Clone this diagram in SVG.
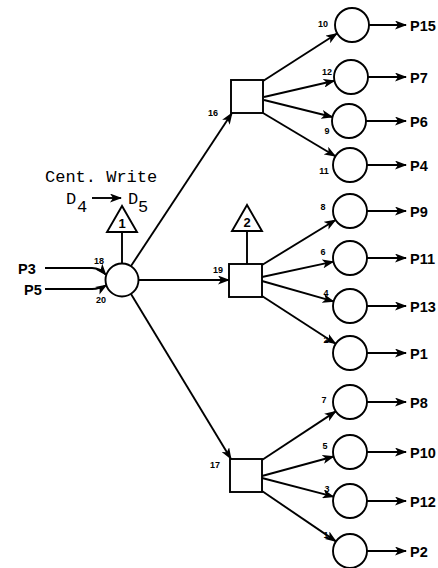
<svg xmlns="http://www.w3.org/2000/svg" width="438" height="568" viewBox="0 0 438 568">
<style>
.n{fill:#fff;stroke:#000;stroke-width:1.9}
.e{fill:none;stroke:#000;stroke-width:1.9;marker-end:url(#ah)}
.l{fill:none;stroke:#000;stroke-width:1.9}
.p{font-family:"Liberation Sans",Arial,sans-serif;font-weight:bold;font-size:14.5px;fill:#000}
.s{font-family:"Liberation Sans",Arial,sans-serif;font-weight:bold;font-size:9px;fill:#000;text-anchor:middle}
.t{font-family:"Liberation Sans",Arial,sans-serif;font-weight:bold;font-size:13px;fill:#000;text-anchor:middle}
.m{font-family:"Liberation Mono","Courier New",monospace;font-size:17px;fill:#000}
</style>
<defs>
<marker id="ah" markerWidth="12" markerHeight="9" refX="11" refY="4.5" orient="auto" markerUnits="userSpaceOnUse">
<path d="M0,0 L12,4.5 L0,9 L3,4.5 z" fill="#000"/>
</marker>
</defs>
<rect width="438" height="568" fill="#fff"/>

<g id="connectors">
<path class="e" d="M45,268 L92,268 Q100,268 106,275"/>
<path class="e" d="M45,289 L92,289 Q100,289 106.5,285"/>
<path class="e" d="M131,266 L232,113"/>
<path class="e" d="M139,280 L229,280"/>
<path class="e" d="M131,294 L231,459"/>
<path class="l" d="M122,232 L122,263.5"/>
<path class="l" d="M247,231 L247,264"/>
<path class="e" d="M263,81 L337,33.5"/>
<path class="e" d="M264,97 L334.4,80.8"/>
<path class="e" d="M264,100 L332.5,117"/>
<path class="e" d="M263,113 L335.4,156.3"/>
<path class="e" d="M262,265 L335.5,220"/>
<path class="e" d="M262,277 L333.4,261.6"/>
<path class="e" d="M262,281 L333.6,301.4"/>
<path class="e" d="M262,296 L335.7,343.8"/>
<path class="e" d="M262,460 L335.8,411.4"/>
<path class="e" d="M262,476 L333.6,456.5"/>
<path class="e" d="M262,478 L333.6,496.7"/>
<path class="e" d="M262,491 L336,541.4"/>
<path class="e" d="M369,25 L406,25"/>
<path class="e" d="M368,77 L406,77"/>
<path class="e" d="M366,121 L406,121"/>
<path class="e" d="M367,165 L406,165"/>
<path class="e" d="M367,211 L406,211"/>
<path class="e" d="M367,258 L406,258"/>
<path class="e" d="M367,306 L406,306"/>
<path class="e" d="M367,353 L406,353"/>
<path class="e" d="M367,402 L406,402"/>
<path class="e" d="M367,452 L406,452"/>
<path class="e" d="M367,501 L406,501"/>
<path class="e" d="M367,551 L406,551"/>
<path class="e" d="M92,198 L121,198"/>
</g>

<g id="annotation">
<text class="m" x="45" y="182">Cent. Write</text>
<text class="m" x="66" y="204" font-size="16">D</text>
<text class="m" x="77" y="212" font-size="16">4</text>
<text class="m" x="128" y="204" font-size="16">D</text>
<text class="m" x="138" y="212" font-size="16">5</text>
</g>

<g id="inputs">
<text class="p" x="18" y="273.5">P3</text>
<text class="p" x="24" y="294.5">P5</text>
<text class="s" x="99" y="264">18</text>
<text class="s" x="101" y="303">20</text>
</g>

<g id="trig1">
<polygon class="n" points="122,206 107,232 137,232"/>
<text class="t" x="122" y="228">1</text>
</g>
<g id="trig2">
<polygon class="n" points="247,205 232,231 262,231"/>
<text class="t" x="247" y="227">2</text>
</g>

<g id="main"><circle class="n" cx="122" cy="280" r="16.5"/></g>

<g id="box16"><rect class="n" x="231" y="80" width="32" height="33"/><text class="s" x="213" y="116">16</text></g>
<g id="box19"><rect class="n" x="229" y="264" width="33" height="33"/><text class="s" x="218" y="273">19</text></g>
<g id="box17"><rect class="n" x="230" y="459" width="32" height="33"/><text class="s" x="215" y="468">17</text></g>

<g id="c10"><circle class="n" cx="352" cy="25" r="17"/><text class="s" x="323" y="27">10</text><text class="p" x="410" y="30.5">P15</text></g>
<g id="c12"><circle class="n" cx="351" cy="77" r="17"/><text class="s" x="327" y="75">12</text><text class="p" x="410" y="82.5">P7</text></g>
<g id="c9"><circle class="n" cx="349" cy="121" r="17"/><text class="s" x="327" y="134">9</text><text class="p" x="410" y="126.5">P6</text></g>
<g id="c11"><circle class="n" cx="350" cy="165" r="17"/><text class="s" x="324" y="174">11</text><text class="p" x="410" y="170.5">P4</text></g>

<g id="c8"><circle class="n" cx="350" cy="211" r="17"/><text class="s" x="323" y="210">8</text><text class="p" x="410" y="216.5">P9</text></g>
<g id="c6"><circle class="n" cx="350" cy="258" r="17"/><text class="s" x="323" y="255">6</text><text class="p" x="410" y="263.5">P11</text></g>
<g id="c4"><circle class="n" cx="350" cy="306" r="17"/><text class="s" x="326" y="296">4</text><text class="p" x="410" y="311.5">P13</text></g>
<g id="c2"><circle class="n" cx="350" cy="353" r="17"/><text class="s" x="326" y="343">2</text><text class="p" x="410" y="358.5">P1</text></g>

<g id="c7"><circle class="n" cx="350" cy="402" r="17"/><text class="s" x="324" y="403">7</text><text class="p" x="410" y="407.5">P8</text></g>
<g id="c5"><circle class="n" cx="350" cy="452" r="17"/><text class="s" x="325" y="449">5</text><text class="p" x="410" y="457.5">P10</text></g>
<g id="c3"><circle class="n" cx="350" cy="501" r="17"/><text class="s" x="327" y="492">3</text><text class="p" x="410" y="506.5">P12</text></g>
<g id="c1"><circle class="n" cx="350" cy="551" r="17"/><text class="s" x="326" y="538">1</text><text class="p" x="410" y="556.5">P2</text></g>
</svg>
